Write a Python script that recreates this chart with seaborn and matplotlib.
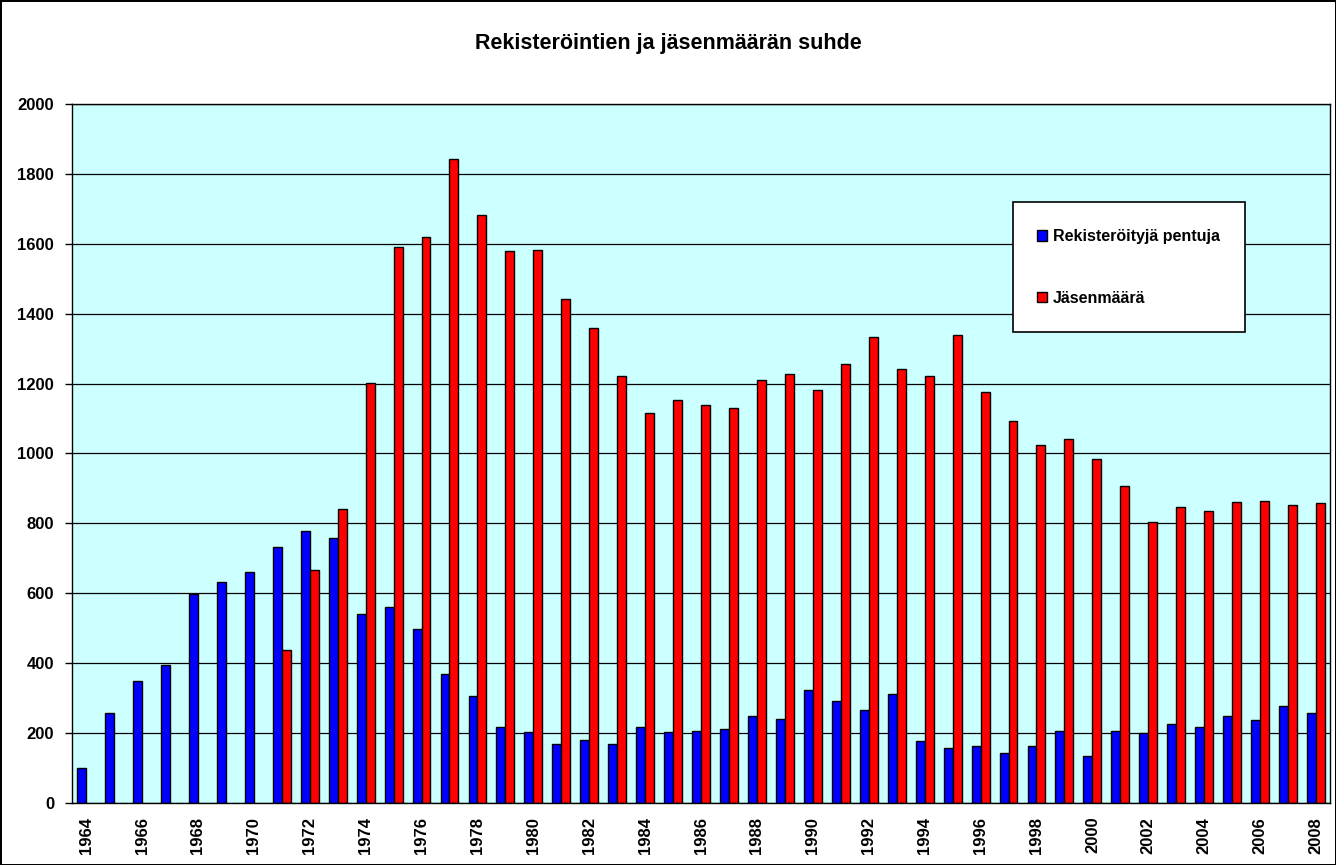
import numpy as np
import pandas as pd
import matplotlib.pyplot as plt
import seaborn as sns
from matplotlib.patches import Rectangle

years = list(range(1964, 2009))

pentuja = [100, 257, 350, 395, 598, 632, 662, 733, 777, 758,
           540, 562, 498, 370, 305, 217, 203, 170, 180, 170,
           217, 203, 207, 213, 248, 240, 322, 293, 266, 312,
           176, 157, 162, 143, 163, 205, 133, 207, 200, 226,
           216, 248, 236, 278, 258]

# no member count before 1971
jasenmaara = [None] * 7 + [438, 668, 842, 1202, 1590, 1620, 1842, 1683, 1580,
                           1582, 1442, 1358, 1222, 1115, 1153, 1140, 1130, 1210,
                           1228, 1182, 1255, 1332, 1243, 1222, 1338, 1175, 1092,
                           1025, 1042, 985, 908, 805, 848, 836, 862, 865, 852, 858]

series = ["Rekisteröityjä pentuja", "Jäsenmäärä"]

df = pd.DataFrame({
    "vuosi": [str(y) for y in years] * 2,
    "arvo": pentuja + jasenmaara,
    "sarja": [series[0]] * len(years) + [series[1]] * len(years),
}).dropna()

sns.set_style("white")
plt.rcParams["font.family"] = ["Liberation Sans", "DejaVu Sans"]
plt.rcParams["text.color"] = "black"
plt.rcParams["xtick.color"] = "black"
plt.rcParams["ytick.color"] = "black"

fig = plt.figure(figsize=(13.36, 8.65), dpi=100)
fig.patch.set_edgecolor("black")
fig.patch.set_linewidth(2)
ax = fig.add_axes([0.054, 0.0717, 0.9415, 0.8081])

sns.barplot(data=df, x="vuosi", y="arvo", hue="sarja",
            order=[str(y) for y in years], hue_order=series,
            palette=["#0000FF", "#FF0000"], saturation=1, width=0.64,
            edgecolor="black", linewidth=1, errorbar=None, ax=ax)

ax.set_facecolor("#CCFFFF")
ax.set_axisbelow(True)
ax.set_ylim(0, 2000)
ax.set_xlim(-0.5, len(years) - 0.5)
ax.set_yticks(range(0, 2001, 200))
ax.yaxis.grid(True, color="black", linewidth=0.9)
ax.set_xlabel("")
ax.set_ylabel("")

ax.set_xticks(range(0, len(years), 2))
ax.set_xticklabels([str(y) for y in years[::2]], rotation=90)
ax.set_xticks(np.arange(-0.5, len(years), 1), minor=True)
ax.tick_params(axis="x", which="major", length=0, pad=10, labelcolor="black")
ax.tick_params(axis="x", which="minor", length=5, width=1, color="black", direction="out")
ax.tick_params(axis="y", length=5, width=1, color="black", direction="out", left=True,
               pad=8, labelcolor="black")
for lbl in ax.get_xticklabels() + ax.get_yticklabels():
    lbl.set_fontsize(12)
    lbl.set_fontweight("bold")

for s in ax.spines.values():
    s.set_color("black")
    s.set_linewidth(1)

fig.text(0.5, 0.950, "Rekisteröintien ja jäsenmäärän suhde", color="black",
         ha="center", va="center", fontsize=15.5, fontweight="bold")

# legend box drawn separately, entries without frame
ax.add_patch(Rectangle((1013 / 1336, 1 - 332 / 865), 232 / 1336, 130 / 865,
                       transform=fig.transFigure, facecolor="white", clip_on=False,
                       edgecolor="black", linewidth=1.2, zorder=4))
leg = ax.legend(loc="center left", bbox_to_anchor=(1037 / 1336, 1 - 267.5 / 865),
                bbox_transform=fig.transFigure, frameon=False,
                labelspacing=2.9, handlelength=0.65, handleheight=0.65,
                handletextpad=0.35, borderpad=0, borderaxespad=0,
                prop={"weight": "bold", "size": 11.5})
leg.set_zorder(10)
for t in leg.get_texts():
    t.set_color("black")

fig.savefig("out.png", dpi=100, edgecolor=fig.get_edgecolor())
